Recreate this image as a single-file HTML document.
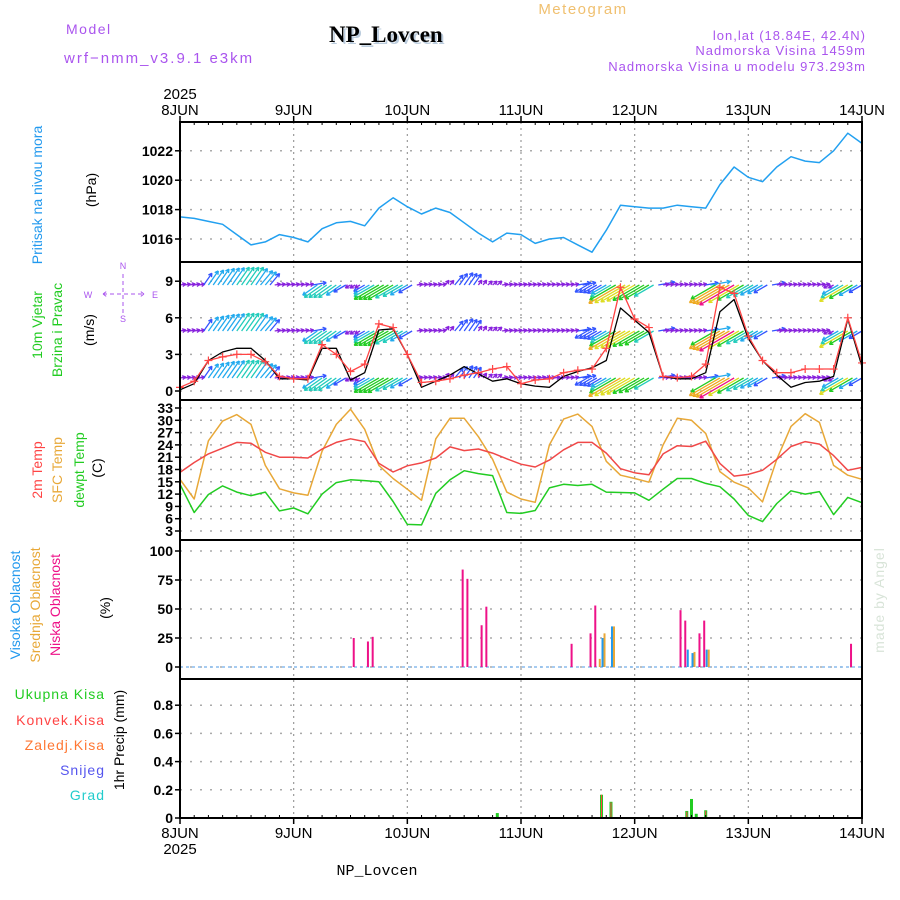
<!DOCTYPE html>
<html><head><meta charset="utf-8">
<style>
html,body{margin:0;padding:0;background:#fff;}
svg{display:block;font-family:"Liberation Sans","DejaVu Sans",sans-serif;}
</style></head>
<body>
<svg id="chart" width="900" height="900" viewBox="0 0 900 900">
<g>
<text x="66" y="34" font-size="14" fill="#aa55ee" letter-spacing="1.5">Model</text>
<text x="64" y="63" font-size="15" fill="#aa55ee" letter-spacing="2">wrf−nmm_v3.9.1 e3km</text>
<text x="331" y="44" font-size="23" font-weight="bold" font-family="'Liberation Serif',serif" fill="#bcd">NP_Lovcen</text>
<text x="329" y="42" font-size="23" font-weight="bold" font-family="'Liberation Serif',serif" fill="#000">NP_Lovcen</text>
<text x="583" y="14" font-size="15" fill="#f0c070" letter-spacing="1.5" text-anchor="middle">Meteogram</text>
<text x="866" y="40" font-size="13" fill="#aa55ee" letter-spacing="1" text-anchor="end">lon,lat (18.84E, 42.4N)</text>
<text x="866" y="55" font-size="13" fill="#aa55ee" letter-spacing="1" text-anchor="end">Nadmorska Visina 1459m</text>
<text x="866" y="71" font-size="13" fill="#aa55ee" letter-spacing="1" text-anchor="end">Nadmorska Visina u modelu 973.293m</text>
</g>
<g id="grid"></g>
<g id="marks"></g>
<g id="frames"></g>
<g id="axes"></g>
<g font-size="14">
<text transform="translate(42,195) rotate(-90)" text-anchor="middle" fill="#2299ee">Pritisak na nivou mora</text>
<text transform="translate(96,190) rotate(-90)" text-anchor="middle" fill="#000">(hPa)</text>
<text transform="translate(42,325) rotate(-90)" text-anchor="middle" fill="#22cc22">10m Vjetar</text>
<text transform="translate(62,330) rotate(-90)" text-anchor="middle" fill="#22cc22">Brzina i Pravac</text>
<text transform="translate(94,330) rotate(-90)" text-anchor="middle" fill="#000">(m/s)</text>
<text transform="translate(42,470) rotate(-90)" text-anchor="middle" fill="#ff4444">2m Temp</text>
<text transform="translate(62,470) rotate(-90)" text-anchor="middle" fill="#e8a838">SFC Temp</text>
<text transform="translate(84,470) rotate(-90)" text-anchor="middle" fill="#22cc22">dewpt Temp</text>
<text transform="translate(102,468) rotate(-90)" text-anchor="middle" fill="#000">(C)</text>
<text transform="translate(20,605) rotate(-90)" text-anchor="middle" fill="#2299ee">Visoka Oblacnost</text>
<text transform="translate(40,605) rotate(-90)" text-anchor="middle" fill="#e8a838">Srednja Oblacnost</text>
<text transform="translate(60,605) rotate(-90)" text-anchor="middle" fill="#ee1188">Niska Oblacnost</text>
<text transform="translate(110,608) rotate(-90)" text-anchor="middle" fill="#000">(%)</text>
<text transform="translate(124,740) rotate(-90)" text-anchor="middle" fill="#000">1hr Precip (mm)</text>
<text x="105" y="699" text-anchor="end" fill="#22cc22" letter-spacing="1">Ukupna Kisa</text>
<text x="105" y="725" text-anchor="end" fill="#ff4444" letter-spacing="1">Konvek.Kisa</text>
<text x="105" y="750" text-anchor="end" fill="#ff7733" letter-spacing="1">Zaledj.Kisa</text>
<text x="105" y="775" text-anchor="end" fill="#5555ee" letter-spacing="1">Snijeg</text>
<text x="105" y="800" text-anchor="end" fill="#22cccc" letter-spacing="1">Grad</text>
</g>
<g fill="#aa55ee" font-size="9">
<text x="123" y="269" text-anchor="middle">N</text>
<text x="88" y="298" text-anchor="middle">W</text>
<text x="155" y="298" text-anchor="middle">E</text>
<text x="123" y="322" text-anchor="middle">S</text>
<path d="M103 294 H144 M123 274 V314 M103 294 l4 -3 M103 294 l4 3 M144 294 l-4 -3 M144 294 l-4 3" stroke="#aa55ee" stroke-width="1" stroke-dasharray="4 3" fill="none"/>
</g>
<text transform="translate(884,600) rotate(-90)" text-anchor="middle" font-size="14" fill="#d8e4d8" letter-spacing="1">made by Angel</text>
<text x="377" y="875" text-anchor="middle" font-size="15" font-family="'Liberation Mono',monospace" fill="#000">NP_Lovcen</text>
</svg>
<script>
// ---- data (3-hourly, 49 points from 8JUN 00 to 14JUN 00) ----
const dayLabels = ["8JUN","9JUN","10JUN","11JUN","12JUN","13JUN","14JUN"];
const pressure = [1017.5,1017.4,1017.2,1017.0,1016.3,1015.6,1015.8,1016.3,1016.1,1015.8,1016.7,1017.1,1017.2,1016.9,1018.1,1018.8,1018.2,1017.7,1018.1,1017.8,1017.1,1016.4,1015.8,1016.4,1016.3,1015.7,1016.0,1016.1,1015.6,1015.1,1016.6,1018.3,1018.2,1018.1,1018.1,1018.3,1018.2,1018.1,1019.7,1020.9,1020.2,1019.9,1020.9,1021.6,1021.3,1021.2,1022.0,1023.2,1022.5];
const windSpeed = [0.1,0.6,2.5,3.2,3.5,3.5,2.5,1.0,1.0,0.9,3.5,3.5,0.9,1.5,5.0,5.1,3.0,0.3,0.8,1.3,2.0,1.4,0.8,1.0,0.6,0.4,0.3,1.2,1.6,1.9,2.5,6.8,5.8,4.8,1.2,1.0,1.0,1.5,6.5,7.5,4.3,2.5,1.3,0.3,0.7,0.8,1.2,5.9,2.0];
const windGust = [0.3,0.8,2.5,2.8,3.0,3.0,2.4,1.2,1.0,1.0,3.8,3.0,1.6,2.2,5.5,5.2,3.0,0.7,0.8,1.0,1.3,1.5,1.8,2.0,0.6,0.9,1.0,1.5,1.7,1.8,3.5,8.5,5.9,5.2,1.2,1.1,1.2,2.2,8.5,8.0,4.5,2.5,1.5,1.5,1.8,1.8,1.8,6.0,2.3];
const windDir = [260,260,215,215,215,215,220,260,260,260,55,55,60,60,60,60,60,260,260,220,215,215,230,260,260,260,260,260,260,60,60,60,60,60,260,260,260,260,60,60,60,60,260,260,260,260,60,60,60];
const temp2m = [17.3,19.7,21.8,23.2,24.6,24.4,22.2,21.0,21.0,20.8,23.0,24.6,25.5,24.8,19.5,17.4,18.9,19.6,20.8,23.5,22.6,23.0,22.0,20.6,19.3,18.6,20.3,22.8,24.6,24.6,22.0,18.2,17.2,16.7,21.8,23.8,23.6,24.9,19.5,16.4,16.8,17.8,20.5,23.6,24.8,24.2,21.4,17.8,18.5];
const tempSfc = [15.6,10.8,25.0,29.8,31.4,29.0,19.0,13.3,12.3,11.7,22.5,29.0,32.7,27.8,19.0,15.8,13.2,10.5,25.5,30.5,30.5,26.0,20.5,12.5,10.8,10.0,24.0,30.3,31.5,28.5,20.0,16.6,15.8,14.9,24.0,30.5,30.0,26.8,17.5,14.9,13.5,10.1,20.5,28.5,31.6,29.5,19.0,16.6,15.6];
const dewpt = [14.4,7.5,11.9,14.0,12.5,11.6,12.5,7.9,8.6,7.2,12.0,14.8,15.5,15.3,15.0,10.2,4.6,4.5,12.2,15.5,17.7,17.0,16.5,7.5,7.3,8.0,13.5,14.4,14.1,14.4,12.5,12.4,12.3,10.5,13.2,15.8,15.8,14.6,13.8,10.8,6.8,5.3,9.7,12.8,12.0,12.6,7.0,11.2,9.9];
// cloud cover bars: hour offset and percent per layer
const cloudHours = [37,40,41,60,61,64,65,83,87,88,89,91,106,107,108,110,111,142];
const cloudLow   = [25,22,26,84,76,36,52,20,29,53,0,0,49,40,0,29,40,20];
const cloudMid   = [0,0,0,0,0,0,0,0,0,7,29,35,0,0,13,0,15,0];
const cloudHigh  = [0,0,0,0,0,0,0,0,0,0,25,35,0,15,12,0,15,0];
// precipitation bars (mm/hr)
const precipHours = [62,67,89,91,100,107,108,109,111];
const precipTotal = [0.005,0.035,0.165,0.115,0.004,0.05,0.135,0.03,0.055];
const precipConv  = [0,0,0.165,0.11,0.004,0.045,0.01,0,0.05];
const pressTicks = [1016,1018,1020,1022];
const windTicks = [0,3,6,9];
const tempTicks = [3,6,9,12,15,18,21,24,27,30,33];
const cloudTicks = [0,25,50,75,100];
const precipTicks = [0,0.2,0.4,0.6,0.8];

// ---- scales ----
const X0 = 180, X1 = 862, DAYPX = (X1-X0)/6;
const xH = h => X0 + h*DAYPX/24;
const xI = i => xH(i*3);
const yP = v => 239 - (v-1016)*14.7;
const yW = v => 391 - v*12.2;
const yT = v => 531 - (v-3)*4.1;
const yC = v => 667 - v*1.16;
const yR = v => 818 - v*141;
const panels = [[122,262],[262,400],[400,540],[540,679],[679,818]];

const NS = "http://www.w3.org/2000/svg";
function mk(tag, parent, attrs){
  const e = document.createElementNS(NS, tag);
  for (const k in attrs) e.setAttribute(k, attrs[k]);
  parent.appendChild(e);
  return e;
}
const grid = document.getElementById('grid');
const marks = document.getElementById('marks');
const frames = document.getElementById('frames');
const axes = document.getElementById('axes');

dayLabels.forEach((d,i)=>{
  if (i===0||i===6) return;
  const g = mk('line', grid, {x1:X0+i*DAYPX, x2:X0+i*DAYPX, y1:122, y2:818, stroke:'#999', 'stroke-width':1.2, 'stroke-dasharray':'2 4'});
  
  
});
function hgrid(ticks, sc, name){
  ticks.forEach(t=>{
    const l = mk('line', grid, {x1:X0, x2:X1, y1:sc(t), y2:sc(t), stroke:'#aaa', 'stroke-width':1.5, 'stroke-dasharray':'2 8'});
    
    
    const tk = mk('line', axes, {x1:X0-5, x2:X0, y1:sc(t), y2:sc(t), stroke:'#000', 'stroke-width':1.5});
    
    
    const tx = mk('text', axes, {x:X0-7, y:sc(t)+5, 'text-anchor':'end', 'font-size':14, 'font-weight':'bold', fill:'#000'});
    tx.textContent = String(t);
    
    
  });
}
hgrid(pressTicks, yP, 'pressure');
hgrid(windTicks, yW, 'wind');
hgrid(tempTicks, yT, 'temp');
hgrid(cloudTicks, yC, 'cloud');
hgrid(precipTicks, yR, 'precip');

panels.forEach((p,i)=>{
  const r = mk('rect', frames, {x:X0, y:p[0], width:X1-X0, height:p[1]-p[0], fill:'none', stroke:'#000', 'stroke-width':2});
  
  
});
dayLabels.forEach((d,i)=>{
  const x = X0+i*DAYPX;
  const t1 = mk('text', axes, {x:x, y:115, 'text-anchor':'middle', 'font-size':15, fill:'#000'});
  t1.textContent = d;
  
  
  const t2 = mk('text', axes, {x:x, y:838, 'text-anchor':'middle', 'font-size':15, fill:'#000'});
  t2.textContent = d;
  
  
  [[116,122],[818,824]].forEach(q=>{
    const tk = mk('line', axes, {x1:x, x2:x, y1:q[0], y2:q[1], stroke:'#000', 'stroke-width':1.5});
    
    
  });
});
for (let h=3; h<144; h+=3){
  if (h%24===0) continue;
  [[122,125],[815,818]].forEach(q=>{
    const tk = mk('line', axes, {x1:xH(h), x2:xH(h), y1:q[0], y2:q[1], stroke:'#000', 'stroke-width':1});
    
    
  });
}
const yr1 = mk('text', axes, {x:X0, y:99, 'text-anchor':'middle', 'font-size':15, fill:'#000'});
yr1.textContent = '2025';


const yr2 = mk('text', axes, {x:X0, y:854, 'text-anchor':'middle', 'font-size':15, fill:'#000'});
yr2.textContent = '2025';



function line(arr, sc, color, name, w){
  const d = arr.map((v,i)=>(i?'L':'M')+xI(i).toFixed(1)+' '+sc(v).toFixed(1)).join(' ');
  const p = mk('path', marks, {d:d, fill:'none', stroke:color, 'stroke-width':w||1.5, 'stroke-linejoin':'round'});
  
  
  return p;
}
line(pressure, yP, '#22a0f0', 'pressure-line');

function interp(arr, h){
  const f = h/3, i = Math.floor(f), t = f-i;
  if (i >= arr.length-1) return arr[arr.length-1];
  return arr[i]*(1-t)+arr[i+1]*t;
}
function windColor(s){
  if (s<1.5) return '#8822dd';
  if (s<2.5) return '#3355ff';
  if (s<3.5) return '#22aaee';
  if (s<4.5) return '#22ccbb';
  if (s<5.5) return '#22cc22';
  if (s<6.5) return '#dddd22';
  if (s<7.5) return '#eeaa22';
  return '#ee1188';
}
const rows = [285,331,378];
for (let h=0; h<=144; h++){
  const s = interp(windSpeed, h);
  const dir = windDir[Math.min(48, Math.round(h/3))];
  const to = (dir+180)*Math.PI/180;
  const len = s<1.5 ? 6 : 6 + s*4.5;
  const dx = Math.sin(to)*len, dy = -Math.cos(to)*len;
  rows.forEach(ry=>{
    const x = xH(h), y = ry;
    const tx = x+dx, ty = y+dy;
    const a = Math.atan2(dy,dx);
    const hl = 4;
    const d = `M${x.toFixed(1)} ${y} L${tx.toFixed(1)} ${ty.toFixed(1)} M${tx.toFixed(1)} ${ty.toFixed(1)} L${(tx-hl*Math.cos(a-0.5)).toFixed(1)} ${(ty-hl*Math.sin(a-0.5)).toFixed(1)} M${tx.toFixed(1)} ${ty.toFixed(1)} L${(tx-hl*Math.cos(a+0.5)).toFixed(1)} ${(ty-hl*Math.sin(a+0.5)).toFixed(1)}`;
    const p = mk('path', marks, {d:d, stroke:windColor(s), 'stroke-width':1.3, fill:'none'});
    
    
  });
}
line(windSpeed, yW, '#000', 'wind-speed-line', 1.3);
line(windGust, yW, '#ff4444', 'wind-gust-line', 1.3);
windGust.forEach((v,i)=>{
  const x = xI(i), y = yW(v);
  const p = mk('path', marks, {d:`M${x-4} ${y} H${x+4} M${x} ${y-4} V${y+4}`, stroke:'#ff4444', 'stroke-width':1.2});
  
  
});

line(tempSfc, yT, '#e8a838', 'sfc-temp-line');
line(temp2m, yT, '#f04848', '2m-temp-line');
line(dewpt, yT, '#22cc22', 'dewpt-line');

const cb = mk('line', marks, {x1:X0, x2:X1, y1:yC(0), y2:yC(0), stroke:'#88bbee', 'stroke-width':1.5, 'stroke-dasharray':'3 3'});


cloudHours.forEach((h,i)=>{
  const x = xH(h);
  [[cloudLow[i],'#ee1188',-2.5,'low-cloud-bar'],[cloudHigh[i],'#2299ee',0,'high-cloud-bar'],[cloudMid[i],'#e8a838',2,'mid-cloud-bar']].forEach(b=>{
    if (b[0]<=0) return;
    const r = mk('rect', marks, {x:x+b[2], y:yC(b[0]), width:2, height:yC(0)-yC(b[0]), fill:b[1]});
    
    
  });
});
precipHours.forEach((h,i)=>{
  const x = xH(h);
  const r = mk('rect', marks, {x:x-1.5, y:yR(precipTotal[i]), width:3, height:yR(0)-yR(precipTotal[i]), fill:'#22cc22'});
  
  
  if (precipConv[i]>0){
    const c = mk('rect', marks, {x:x-0.5, y:yR(precipConv[i]), width:1, height:yR(0)-yR(precipConv[i]), fill:'#ff4444'});
    
    
  }
});
</script>
</body></html>
